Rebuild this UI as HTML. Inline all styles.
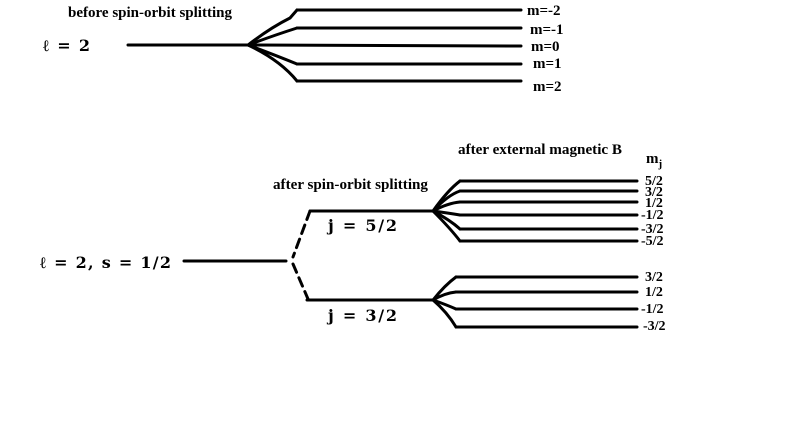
<!DOCTYPE html>
<html><head><style>
html,body{margin:0;padding:0;background:#fff;}
svg{display:block;}
.t{font-family:"Liberation Serif",serif;font-weight:bold;font-size:15px;fill:#000;}
.s{font-family:"Liberation Serif",serif;font-weight:bold;font-size:14px;fill:#000;}
.m{font-family:"DejaVu Serif",serif;font-weight:bold;font-size:16px;fill:#000;}
</style></head><body>
<svg width="799" height="422" viewBox="0 0 799 422" xmlns="http://www.w3.org/2000/svg">
<g stroke="#000" stroke-width="3" fill="none" stroke-linecap="round">
<line x1="128" y1="45" x2="250" y2="45"/>
<path d="M248 45 Q270 28 290 18 L297 10"/>
<path d="M248 45 Q275 35 297 28"/>
<line x1="248" y1="45" x2="521" y2="46"/>
<path d="M248 45 Q275 55 297 64"/>
<path d="M248 45 Q280 60 297 81"/>
<line x1="297" y1="10" x2="521" y2="10"/>
<line x1="297" y1="28" x2="521" y2="28"/>
<line x1="297" y1="64" x2="521" y2="64"/>
<line x1="297" y1="81" x2="521" y2="81"/>

<line x1="184" y1="261" x2="286" y2="261"/>
<path d="M310 211 L293 257" stroke-dasharray="9,6"/>
<path d="M293 264 L308 299" stroke-dasharray="9,6"/>
<line x1="310" y1="211" x2="434" y2="211"/>
<line x1="307" y1="300" x2="434" y2="300"/>

<path d="M433 211 Q448 190 460 181"/>
<path d="M433 211 Q448 195 460 191"/>
<path d="M433 211 Q448 203 460 202"/>
<path d="M433 211 Q448 213 460 215"/>
<path d="M433 211 Q450 220 460 229"/>
<path d="M433 211 Q450 228 460 241"/>
<line x1="460" y1="181" x2="637" y2="181"/>
<line x1="460" y1="191" x2="637" y2="191"/>
<line x1="460" y1="202" x2="637" y2="202"/>
<line x1="460" y1="215" x2="637" y2="215"/>
<line x1="460" y1="229" x2="637" y2="229"/>
<line x1="460" y1="241" x2="637" y2="241"/>

<path d="M433 300 Q445 285 456 277"/>
<path d="M433 300 Q445 293 456 292"/>
<path d="M433 300 Q447 305 456 309"/>
<path d="M433 300 Q447 312 456 327"/>
<line x1="456" y1="277" x2="637" y2="277"/>
<line x1="456" y1="292" x2="637" y2="292"/>
<line x1="456" y1="309" x2="637" y2="309"/>
<line x1="456" y1="327" x2="637" y2="327"/>
</g>
<text class="t" x="68" y="17" textLength="164" lengthAdjust="spacingAndGlyphs">before spin-orbit splitting</text>
<text class="m" x="43" y="51" textLength="47">ℓ = 2</text>
<text class="t" x="527" y="15">m=-2</text>
<text class="t" x="530" y="34">m=-1</text>
<text class="t" x="531" y="51">m=0</text>
<text class="t" x="533" y="68">m=1</text>
<text class="t" x="533" y="91">m=2</text>

<text class="t" x="458" y="154" textLength="164" lengthAdjust="spacingAndGlyphs">after external magnetic B</text>
<text class="t" x="646" y="163" font-size="16">m<tspan font-size="11" dy="4">j</tspan></text>
<text class="t" x="273" y="189" textLength="155" lengthAdjust="spacingAndGlyphs">after spin-orbit splitting</text>
<text class="m" x="40" y="268" textLength="131">ℓ = 2, s = 1/2</text>
<text class="m" x="328" y="231" textLength="69">j = 5/2</text>
<text class="m" x="328" y="321" textLength="69">j = 3/2</text>

<text class="s" x="645" y="185">5/2</text>
<text class="s" x="645" y="196">3/2</text>
<text class="s" x="645" y="207">1/2</text>
<text class="s" x="641" y="219">-1/2</text>
<text class="s" x="641" y="233">-3/2</text>
<text class="s" x="641" y="245">-5/2</text>
<text class="s" x="645" y="281">3/2</text>
<text class="s" x="645" y="296">1/2</text>
<text class="s" x="641" y="313">-1/2</text>
<text class="s" x="643" y="330">-3/2</text>
</svg>
</body></html>
